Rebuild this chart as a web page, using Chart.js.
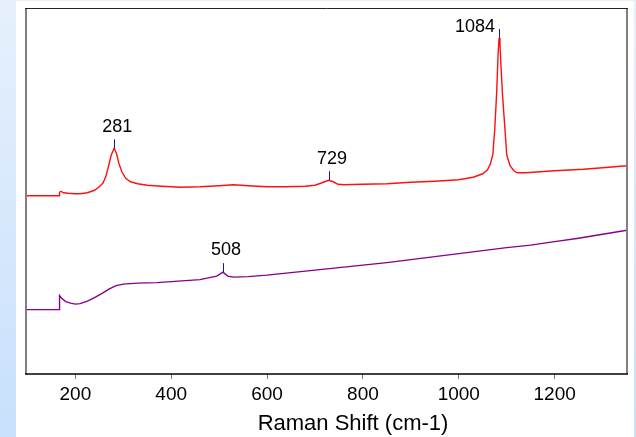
<!DOCTYPE html>
<html><head><meta charset="utf-8">
<script src="https://cdn.jsdelivr.net/npm/chart.js@4.4.1/dist/chart.umd.min.js"></script>
<style>
html,body{margin:0;padding:0;width:636px;height:437px;overflow:hidden;background:linear-gradient(#e6f0fc,#c8e0fc);}
#panel{position:absolute;left:16px;top:1px;width:618px;height:436px;background:#fff;}
#wrap{position:absolute;left:0;top:0;width:636px;height:437px;}
</style></head><body>
<div id="panel"></div>
<div id="wrap"><canvas id="c" width="636" height="437"></canvas></div>
<script>
// Raman spectra (arbitrary intensity units)
const redShift = [97,166,167,170,175,185,200,210,225,240,250,258,264,270,275,281,286,291,297,305,315,330,350,380,420,460,500,530,560,600,640,680,700,712,720,729,738,748,760,800,850,900,950,1000,1030,1050,1060,1066,1071,1075,1079,1082,1084,1086,1088,1091,1096,1100,1107,1115,1122,1140,1200,1260,1300,1351];
const redIntensity = [178.5,178.5,182,183,181.5,181,180.5,180.5,181.5,184,187.5,191.5,198.5,209.5,219.5,226,220.5,210.5,202.5,196,192.5,190.5,189,188,187,187.5,188.5,189.5,188.5,187.5,187.5,188,189,191,192.5,194,192.5,190,189.5,190,190.5,192,193,194.5,197,200.5,204.5,210.5,219.5,244.5,281.5,319.5,336.5,329.5,309.5,281.5,247.5,219.5,208.5,203.5,201.5,201.5,203.5,205,206.5,208.5];
const purpleShift = [97,166,167,172,180,190,200,210,225,240,255,270,285,300,330,370,400,430,460,480,495,508,518,530,560,600,650,700,750,800,850,900,950,1000,1050,1100,1150,1200,1250,1300,1351];
const purpleIntensity = [64.5,64.5,78.5,75.5,72.5,71,70,70.5,73,76.5,80.5,85,88.5,90,91,91.5,92.5,93.5,94.5,96.5,98,102,98,97,97.5,99,101.5,104,106.5,109,111.5,114.5,117.5,120.5,123.5,126.5,129,132.5,136,140,144];
const xTickValues = [200,400,600,800,1000,1200];
const peakLabels = ['281','729','1084','508'];
const peakShifts = [281,729,1084,508];
const peakSeries = [0,0,0,1];
const axisTitle = 'Raman Shift (cm-1)';

// label placement (pixels, relative to peak)
const peakLabelDx = [3,3,-24,3];
const peakLabelDy = [-21,-21,-11,-22];

const FONT = "'Liberation Sans', Arial, sans-serif";

const framePlugin = {
  id:'frame',
  afterDatasetsDraw(chart){
    const {ctx, chartArea:a} = chart;
    ctx.save();
    ctx.strokeStyle = '#808080'; ctx.lineWidth = 2;
    ctx.beginPath(); ctx.moveTo(a.left, a.top); ctx.lineTo(a.left, a.bottom); ctx.stroke();
    ctx.beginPath(); ctx.moveTo(a.right, a.top); ctx.lineTo(a.right, a.bottom); ctx.stroke();
    ctx.strokeStyle = '#222'; ctx.lineWidth = 1;
    ctx.beginPath(); ctx.moveTo(a.left-1, a.top+0.5); ctx.lineTo(a.right+1, a.top+0.5); ctx.stroke();
    ctx.strokeStyle = '#000'; ctx.lineWidth = 1.5;
    ctx.beginPath(); ctx.moveTo(a.left-1, a.bottom); ctx.lineTo(a.right+1, a.bottom); ctx.stroke();
    ctx.restore();
  }
};

const peakPlugin = {
  id:'peaks',
  afterDatasetsDraw(chart){
    const {ctx} = chart;
    const xs = chart.scales.x, ys = chart.scales.y;
    ctx.save();
    peakShifts.forEach((s,i)=>{
      const ds = chart.data.datasets[peakSeries[i]].data;
      const pt = ds.find(p=>p.x===s);
      const px = xs.getPixelForValue(pt.x), py = ys.getPixelForValue(pt.y);
      ctx.strokeStyle = '#1a1a7a'; ctx.lineWidth = 1;
      ctx.beginPath(); ctx.moveTo(Math.round(px)+0.5, py); ctx.lineTo(Math.round(px)+0.5, py-9); ctx.stroke();
      ctx.fillStyle = '#000'; ctx.font = '18px ' + FONT;
      ctx.textAlign = 'center'; ctx.textBaseline = 'middle';
      ctx.fillText(peakLabels[i], px + peakLabelDx[i], py + peakLabelDy[i]);
    });
    ctx.restore();
  }
};

const titlePlugin = {
  id:'xtitle',
  afterDraw(chart){
    const {ctx} = chart;
    ctx.save();
    ctx.fillStyle = '#000'; ctx.font = '22px ' + FONT;
    ctx.textAlign = 'center'; ctx.textBaseline = 'middle';
    ctx.fillText(axisTitle, 353, 424);
    ctx.restore();
  }
};

new Chart(document.getElementById('c'), {
  type:'line',
  data:{datasets:[
    {data: redShift.map((x,i)=>({x, y:redIntensity[i]})), borderColor:'#ff1010', borderWidth:1.4, pointRadius:0, tension:0, fill:false},
    {data: purpleShift.map((x,i)=>({x, y:purpleIntensity[i]})), borderColor:'#880088', borderWidth:1.4, pointRadius:0, tension:0, fill:false}
  ]},
  options:{
    responsive:false, animation:false, devicePixelRatio:1,
    layout:{padding:{left:26,right:9,top:8,bottom:0}},
    plugins:{legend:{display:false}, tooltip:{enabled:false}},
    scales:{
      x:{type:'linear', min:97, max:1351,
        afterBuildTicks: s=>{ s.ticks = xTickValues.map(v=>({value:v})); },
        grid:{display:true, drawOnChartArea:false, drawTicks:true, tickLength:5, color:'#777'},
        border:{display:false},
        ticks:{font:{family:FONT, size:19}, color:'#000', padding:4, maxRotation:0, autoSkip:false,
          callback: v => String(v)},
        afterFit: s=>{ s.height = 63; }
      },
      y:{display:false, min:0, max:366.5}
    }
  },
  plugins:[framePlugin, peakPlugin, titlePlugin]
});
</script>
</body></html>
